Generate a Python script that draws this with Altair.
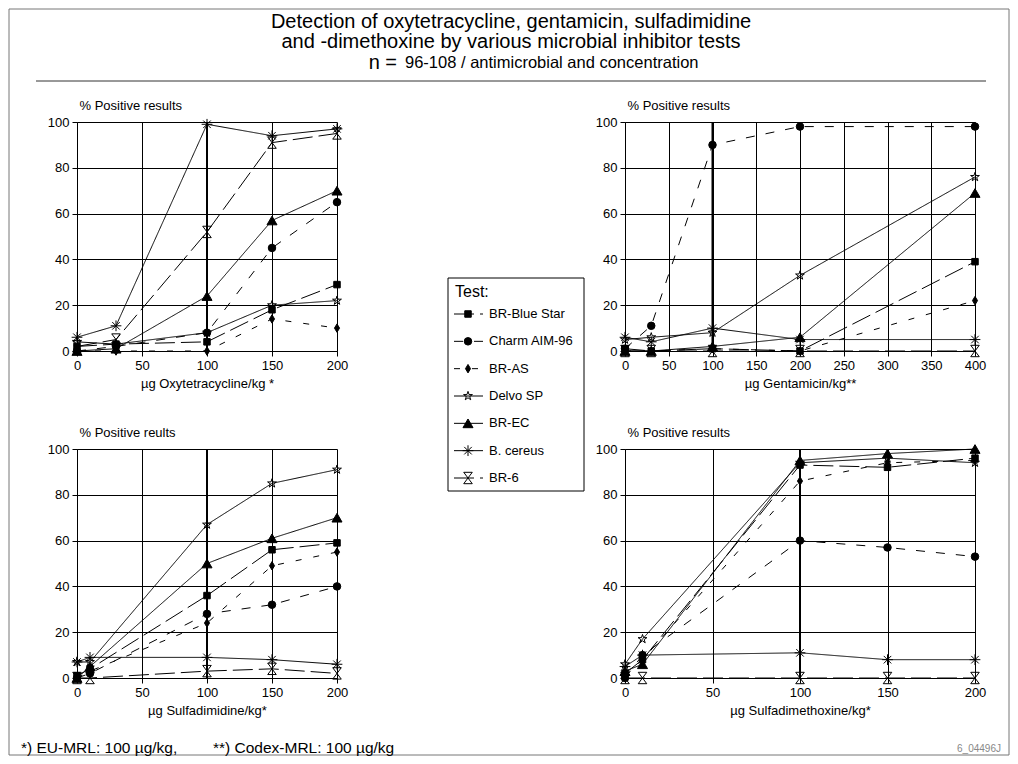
import altair as alt
import pandas as pd

FONT = "Liberation Sans"

TESTS = ["BR-Blue Star", "Charm AIM-96", "BR-AS", "Delvo SP", "BR-EC", "B. cereus", "BR-6"]

# Oxytetracycline (µg/kg) -> % positive results
OXY_DOSE = [0, 30, 100, 150, 200]
OXY = {
    "BR-Blue Star": [2, 3, 4, 18, 29],
    "Charm AIM-96": [0, 2, 8, 45, 65],
    "BR-AS": [0, 0, 0, 14, 10],
    "Delvo SP": [4, 3, 8, 20, 22],
    "BR-EC": [0, 1, 24, 57, 70],
    "B. cereus": [6, 11, 99, 94, 97],
    "BR-6": [2, 5, 52, 91, 95],
}

# Gentamicin
GEN_DOSE = [0, 30, 100, 200, 400]
GEN = {
    "BR-Blue Star": [1, 0, 1, 0, 39],
    "Charm AIM-96": [1, 11, 90, 98, 98],
    "BR-AS": [0, 0, 1, 0, 22],
    "Delvo SP": [5, 6, 8, 33, 76],
    "BR-EC": [0, 0, 2, 6, 69],
    "B. cereus": [6, 4, 10, 5, 5],
    "BR-6": [0, 0, 0, 0, 0],
}

# Sulfadimidine
SDM_DOSE = [0, 10, 100, 150, 200]
SDM = {
    "BR-Blue Star": [1, 4, 36, 56, 59],
    "Charm AIM-96": [0, 2, 28, 32, 40],
    "BR-AS": [0, 3, 24, 49, 55],
    "Delvo SP": [7, 7, 67, 85, 91],
    "BR-EC": [0, 5, 50, 61, 70],
    "B. cereus": [7, 9, 9, 8, 6],
    "BR-6": [0, 0, 3, 4, 2],
}

# Sulfadimethoxine
SDX_DOSE = [0, 10, 100, 150, 200]
SDX = {
    "BR-Blue Star": [2, 8, 93, 92, 96],
    "Charm AIM-96": [0, 10, 60, 57, 53],
    "BR-AS": [1, 8, 86, 94, 95],
    "Delvo SP": [6, 17, 94, 96, 94],
    "BR-EC": [3, 6, 95, 98, 100],
    "B. cereus": [5, 10, 11, 8, 8],
    "BR-6": [0, 0, 0, 0, 0],
}

MRL = [100]
Y_TICKS = [0, 20, 40, 60, 80, 100]

# marker / line styles
STAR = ("M0,-1L0.223,-0.307L0.951,-0.309L0.361,0.117L0.588,0.809L0,0.38"
        "L-0.588,0.809L-0.361,0.117L-0.951,-0.309L-0.223,-0.307Z")
ASTER = "M-1,0L1,0M0,-1L0,1M-0.7,-0.7L0.7,0.7M-0.7,0.7L0.7,-0.7"
HOURGLASS = "M-0.75,-1L0.75,-1L-0.75,1L0.75,1Z"
DIAMOND = "M0,-1L0.6,0L0,1L-0.6,0Z"
SHAPES = ["square", "circle", DIAMOND, STAR, "triangle-up", ASTER, HOURGLASS]
FILLS = ["black", "black", "black", "transparent", "black", "transparent", "transparent"]
SIZES = [42, 130, 100, 150, 95, 150, 85]
DASHES = [[20, 6], [9, 11], [6, 12], [1, 0], [1, 0], [1, 0], [20, 6]]

SHAPE_SCALE = alt.Scale(domain=TESTS, range=SHAPES)
FILL_SCALE = alt.Scale(domain=TESTS, range=FILLS)
SIZE_SCALE = alt.Scale(domain=TESTS, range=SIZES)
DASH_SCALE = alt.Scale(domain=TESTS, range=DASHES)


def long_df(doses, series):
    rows = []
    for t in TESTS:
        for d, v in zip(doses, series[t]):
            rows.append({"test": t, "dose": d, "pct": v})
    return pd.DataFrame(rows)


def panel(doses, series, xmax, xtitle, ytitle, width, extras=()):
    df = long_df(doses, series)
    X = alt.X("dose:Q", scale=alt.Scale(domain=[0, xmax], nice=False, zero=True),
              axis=alt.Axis(values=list(range(0, xmax + 1, 50)), title=xtitle,
                            labelFlush=False, tickSize=5, labelPadding=3, titlePadding=5))
    Y = alt.Y("pct:Q", scale=alt.Scale(domain=[0, 100], nice=False),
              axis=alt.Axis(values=Y_TICKS, title=ytitle, titleAngle=0, titleAlign="left",
                            titleBaseline="middle", titleX=2, titleY=-17,
                            labelFlush=False, tickSize=5, labelPadding=3))
    rule = alt.Chart(pd.DataFrame({"dose": MRL})).mark_rule(
        color="black", strokeWidth=2).encode(x=X)
    base = alt.Chart(df)
    lines = base.mark_line(color="black", strokeWidth=1).encode(
        x=X, y=Y, detail="test:N",
        strokeDash=alt.StrokeDash("test:N", scale=DASH_SCALE, legend=None))
    pts = base.mark_point(stroke="black", strokeWidth=1, opacity=1).encode(
        x=X, y=Y,
        shape=alt.Shape("test:N", scale=SHAPE_SCALE, legend=None),
        fill=alt.Fill("test:N", scale=FILL_SCALE, legend=None),
        size=alt.Size("test:N", scale=SIZE_SCALE, legend=None))
    return alt.layer(rule, lines, pts, *extras).properties(width=width, height=229)


one = pd.DataFrame({"k": [0]})


def txt(text, x, y, size, align="left", color="black"):
    return alt.Chart(one).mark_text(text=text, fontSize=size, align=align,
                                    baseline="middle", color=color, font=FONT).encode(
        x=alt.value(x), y=alt.value(y))


# header / footer / frame (placed relative to first panel's plot area)
frame = alt.Chart(one).mark_rect(fill="transparent", stroke="#777777", strokeWidth=1).encode(
    x=alt.value(-68), x2=alt.value(932), y=alt.value(-113), y2=alt.value(633))
title_rule = alt.Chart(one).mark_rule(color="#333333", strokeWidth=1).encode(
    x=alt.value(-41), x2=alt.value(909), y=alt.value(-41))
extras = [
    frame, title_rule,
    txt("Detection of oxytetracycline, gentamicin, sulfadimidine", 434, -100, 20, "center"),
    txt("and -dimethoxine by various microbial inhibitor tests", 434, -80, 20, "center"),
    txt("n =", 320, -59, 20, "right"),
    txt("96-108 / antimicrobial and concentration", 328, -59, 16.5),
    txt("*) EU-MRL: 100 µg/kg,", -56, 626, 15.5),
    txt("**) Codex-MRL: 100 µg/kg", 136, 626, 15.5),
    txt("6_04496J", 924, 627, 10, "right", "#888888"),
]

p1 = panel(OXY_DOSE, OXY, 200, "µg Oxytetracycline/kg *", "% Positive results", 260, extras)
p2 = panel(GEN_DOSE, GEN, 400, "µg Gentamicin/kg**", "% Positive results", 350)
p3 = panel(SDM_DOSE, SDM, 200, "µg Sulfadimidine/kg*", "% Positive reults", 260)
p4 = panel(SDX_DOSE, SDX, 200, "µg Sulfadimethoxine/kg*", "% Positive results", 350)

# legend view
leg_df = pd.DataFrame({"test": TESTS})
LY = alt.Y("test:N", sort=TESTS,
           scale=alt.Scale(type="point", domain=TESTS, range=[192, 356], padding=0), axis=None)
leg_box = alt.Chart(one).mark_rect(fill="white", stroke="black", strokeWidth=1).encode(
    x=alt.value(111), x2=alt.value(247), y=alt.value(156), y2=alt.value(369))
leg_title = txt("Test:", 118, 170, 16)
leg_base = alt.Chart(leg_df)
leg_seg = leg_base.mark_rule(color="black", strokeWidth=1).encode(
    y=LY, x=alt.value(117), x2=alt.value(146),
    strokeDash=alt.StrokeDash("test:N", scale=DASH_SCALE, legend=None))
leg_pts = leg_base.mark_point(stroke="black", strokeWidth=1, opacity=1).encode(
    y=LY, x=alt.value(131),
    shape=alt.Shape("test:N", scale=SHAPE_SCALE, legend=None),
    fill=alt.Fill("test:N", scale=FILL_SCALE, legend=None),
    size=alt.Size("test:N", scale=SIZE_SCALE, legend=None))
leg_lab = leg_base.mark_text(align="left", baseline="middle", fontSize=13, font=FONT).encode(
    y=LY, x=alt.value(152), text="test:N")
legend = alt.layer(leg_box, leg_title, leg_seg, leg_pts, leg_lab).properties(width=288, height=229)

blank = alt.Chart(one).mark_point(opacity=0).encode(
    x=alt.value(0), y=alt.value(0)).properties(width=288, height=229)

chart = alt.concat(p1, legend, p2, p3, blank, p4, columns=3,
                   spacing={"row": 98, "column": 0}, bounds="flush").properties(
    padding=0
).configure(font=FONT).configure_view(stroke="transparent").configure_axis(
    labelFont=FONT, titleFont=FONT, labelFontSize=13, titleFontSize=13,
    titleFontWeight="normal", labelColor="black", titleColor="black",
    domainColor="black", tickColor="black", gridColor="black", gridOpacity=1,
    gridWidth=1, domainWidth=1, tickWidth=1)

chart.save("out.html", embed_options={"renderer": "svg", "actions": False})
